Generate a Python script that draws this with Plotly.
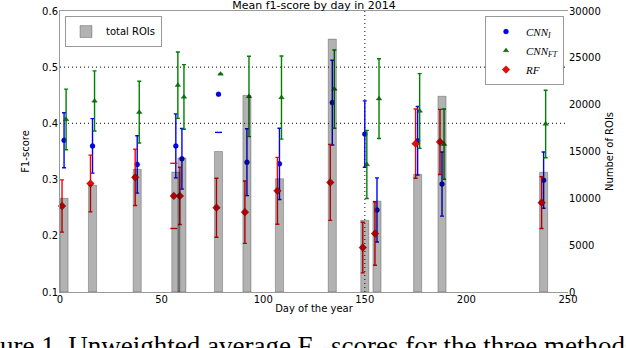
import plotly.graph_objects as go

# ---- data ----
days = [2, 16, 38, 57, 60, 78, 92, 108, 134, 150, 156, 176, 188, 238]
total_rois = [10000, 11400, 13100, 12800, 14300, 15000, 21000, 12100, 27000, 7650, 9700, 12560, 20900, 12780]

cnn_i = [0.370, 0.360, 0.327, 0.360, 0.337, 0.452, 0.331, 0.328, 0.437, 0.381, 0.246, 0.369, 0.292, 0.299]
cnn_i_err = [0.049, 0.0485, 0.051, 0.057, 0.054, None, 0.0595, 0.0635, 0.0755, 0.059, 0.057, 0.061, 0.057, 0.050]

cnn_ft = [0.407, 0.440, 0.420, 0.468, 0.447, 0.488, 0.448, 0.446, 0.461, 0.327, 0.444, 0.422, 0.363, 0.399]
cnn_ft_err = [0.054, 0.0535, 0.055, 0.059, 0.0575, None, 0.0715, 0.074, 0.0695, 0.0605, 0.071, 0.0665, 0.0625, 0.060]

rf = [0.253, 0.293, 0.304, 0.271, 0.271, 0.250, 0.242, 0.280, 0.295, 0.179, 0.204, 0.364, 0.367, 0.259]
rf_err = [0.0465, 0.0505, 0.050, None, 0.051, 0.0525, 0.0555, 0.0595, 0.0675, 0.045, 0.0565, 0.0615, 0.058, 0.046]

# error caps drawn without their connecting line in the source figure
rf_lone_cap_days = [56, 56]
rf_lone_caps = [0.329, 0.213]
cnn_i_lone_cap_days = [78]
cnn_i_lone_caps = [0.384]

ref_f1 = [0.4, 0.5]
ref_day = 150

x_ticks = [0, 50, 100, 150, 200, 250]
y_ticks = [0.1, 0.2, 0.3, 0.4, 0.5, 0.6]
y2_ticks = [0, 5000, 10000, 15000, 20000, 25000, 30000]

BLUE = "#0000ff"
GREEN = "#008000"
RED = "#ff0000"
FONT = "DejaVu Sans"

fig = go.Figure()


def err_arr(e):
    return [v if v is not None else 0 for v in e]


series = [
    ("<i>CNN</i><sub><i>I</i></sub>", [d for d in days], cnn_i, cnn_i_err, BLUE, "circle", 5),
    ("<i>CNN</i><sub><i>FT</i></sub>", [d + 1 for d in days], cnn_ft, cnn_ft_err, GREEN, "triangle-up", 5),
    ("<i>RF</i>", [d - 1 for d in days], rf, rf_err, RED, "diamond", 6),
]
for name, xs, ys, es, col, sym, sz in series:
    fig.add_trace(go.Scatter(
        x=xs, y=ys, mode="markers", name=name, legend="legend2",
        marker=dict(color=col, symbol=sym, size=sz, line=dict(color="rgba(0,0,0,0.5)", width=0.5)),
        error_y=dict(type="data", array=err_arr(es), color=col, thickness=1.4, width=2),
        yaxis="y", cliponaxis=False,
    ))

fig.add_trace(go.Scatter(
    x=rf_lone_cap_days, y=rf_lone_caps, mode="markers", showlegend=False,
    marker=dict(symbol="line-ew", size=5, line=dict(color=RED, width=1.4)), yaxis="y"))
fig.add_trace(go.Scatter(
    x=cnn_i_lone_cap_days, y=cnn_i_lone_caps, mode="markers", showlegend=False,
    marker=dict(symbol="line-ew", size=5, line=dict(color=BLUE, width=1.4)), yaxis="y"))

fig.add_trace(go.Bar(
    x=days, y=total_rois, width=4, name="total ROIs", legend="legend", yaxis="y2",
    marker=dict(color="rgba(0,0,0,0.3)", line=dict(color="rgba(0,0,0,0.25)", width=1)),
))

for v in ref_f1:
    fig.add_shape(type="line", xref="paper", x0=0, x1=1, yref="y", y0=v, y1=v,
                  line=dict(color="#333", width=1.2, dash="1px,3px"), layer="below")
fig.add_shape(type="line", xref="x", x0=ref_day, x1=ref_day, yref="paper", y0=0, y1=1,
              line=dict(color="#333", width=1.2, dash="1px,3px"), layer="below")

fig.update_layout(
    width=626, height=348,
    margin=dict(l=60, r=58, t=11, b=56, autoexpand=False),
    paper_bgcolor="white", plot_bgcolor="white",
    font=dict(family=FONT, size=10, color="black"),
    title=dict(text="Mean f1-score by day in 2014", x=0.5, xref="paper", y=0.985, yref="container",
               yanchor="middle", font=dict(size=11, family=FONT), automargin=False),
    xaxis=dict(range=[0, 250], tickvals=x_ticks, showgrid=False, zeroline=False, automargin=False,
               showline=True, linecolor="#999", linewidth=1, mirror=True, ticks="",
               ticklabelstandoff=-2,
               title=dict(text="Day of the year", standoff=0, font=dict(size=10))),
    yaxis=dict(range=[0.1, 0.6], tickvals=y_ticks, tickformat=".1f", showgrid=False, zeroline=False,
               showline=True, linecolor="#999", linewidth=1, ticks="", automargin=False,
               ticklabelstandoff=-1,
               title=dict(text="F1-score", standoff=10, font=dict(size=10))),
    yaxis2=dict(range=[0, 30000], tickvals=y2_ticks, tickformat="d", overlaying="y", side="right",
                showgrid=False, zeroline=False, showline=False, ticks="", automargin=False,
                title=dict(text="Number of ROIs", standoff=6, font=dict(size=10))),
    legend=dict(x=0.0098, y=0.982, xanchor="left", yanchor="top", bgcolor="white",
                bordercolor="#999", borderwidth=1, font=dict(size=10, family=FONT)),
    legend2=dict(x=0.8366, y=0.982, xanchor="left", yanchor="top", bgcolor="white",
                 bordercolor="#999", borderwidth=1, font=dict(size=11, family="Liberation Serif"),
                 tracegroupgap=0),
    showlegend=True,
    annotations=[dict(
        text="ure 1. Unweighted average F<sub>1</sub>-scores for the three methods",
        xref="paper", yref="paper", x=-0.122, y=-0.132, xanchor="left", yanchor="top",
        showarrow=False, font=dict(family="Liberation Serif", size=27, color="black"))],
)

fig.write_html("out.html", config={"displayModeBar": False},
               post_script="document.body.style.margin='0';document.body.style.overflow='hidden';")
